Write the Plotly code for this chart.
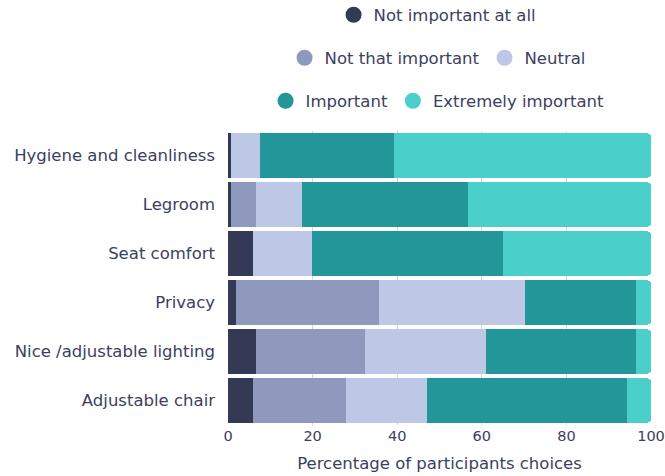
import plotly.graph_objects as go

categories = ["Hygiene and cleanliness", "Legroom", "Seat comfort", "Privacy",
              "Nice /adjustable lighting", "Adjustable chair"]
not_important_at_all = [0.6, 0.6, 5.8, 2.0, 6.5, 5.8]
not_that_important = [0.0, 5.9, 0.0, 33.8, 25.8, 22.0]
neutral = [6.9, 10.9, 14.0, 34.3, 28.6, 19.2]
important = [31.7, 39.3, 45.2, 26.3, 35.5, 47.3]
extremely_important = [60.8, 43.3, 35.0, 3.6, 3.6, 5.7]
x_ticks = [0, 20, 40, 60, 80, 100]

series = [
    ("Not important at all", not_important_at_all, "#343a55", "legend"),
    ("Not that important", not_that_important, "#8f99bd", "legend2"),
    ("Neutral", neutral, "#bdc8e6", "legend2"),
    ("Important", important, "#229698", "legend3"),
    ("Extremely important", extremely_important, "#4acfcb", "legend3"),
]

FONT = "DejaVu Sans, sans-serif"
FS = 16.5
TXT = "#3b4060"

fig = go.Figure()
for name, vals, color, lg in series:
    fig.add_trace(go.Bar(
        y=categories, x=vals, name=name, orientation="h",
        marker=dict(color=color, line=dict(width=0)),
        showlegend=False,
    ))
for name, vals, color, lg in series:
    fig.add_trace(go.Scatter(
        x=[None], y=[None], mode="markers", name=name,
        marker=dict(color=color, size=16, symbol="circle"),
        legend=lg, showlegend=True,
    ))

legend_common = dict(orientation="h", xanchor="center", x=0.658, xref="container",
                     yanchor="middle", yref="container",
                     font=dict(family=FONT, size=FS, color=TXT),
                     bgcolor="rgba(0,0,0,0)", itemclick=False)

fig.update_layout(
    width=665, height=476,
    barmode="stack", bargap=0.1, barcornerradius=3,
    plot_bgcolor="white", paper_bgcolor="white",
    margin=dict(l=228, r=14, t=131, b=51, pad=0),
    font=dict(family=FONT, size=FS, color=TXT),
    legend=dict(y=1 - 15 / 476, **legend_common),
    legend2=dict(y=1 - 58 / 476, **legend_common),
    legend3=dict(y=1 - 101 / 476, **legend_common),
    xaxis=dict(range=[0, 100], tickvals=x_ticks,
               showgrid=True, gridcolor="#d6d6d6", gridwidth=1,
               zeroline=False, showline=False, ticks="", automargin=False,
               ticklabeloverflow="allow",
               tickfont=dict(family=FONT, size=14.5, color=TXT),
               title=dict(text="Percentage of participants choices",
                          font=dict(family=FONT, size=FS, color=TXT), standoff=14)),
    yaxis=dict(categoryorder="array", categoryarray=categories, autorange="reversed",
               showgrid=False, ticks="", ticklabelstandoff=12, automargin=False,
               tickfont=dict(family=FONT, size=FS, color=TXT)),
)

fig.write_html("out.html")
